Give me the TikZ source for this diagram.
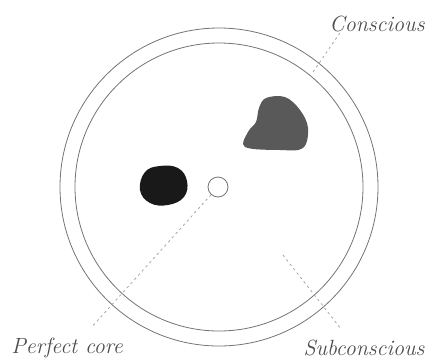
\documentclass[tikz,border=0pt]{standalone}
\usepackage{tikz}
\usetikzlibrary{positioning, calc}

\begin{document}
\begin{tikzpicture}[
    x=0.5pt, y=-0.5pt,
    ring/.style={draw=black!55, line width=0.4pt},
    lbl/.style={font=\itshape\fontsize{11}{13}\selectfont, text=black!70, inner sep=0pt},
    leader/.style={draw=black!35, line width=0.4pt, dash pattern=on 1.2pt off 1.6pt}
]
\useasboundingbox (0,0) rectangle (429,360);
% rings
\coordinate (mid) at (219,187);
\draw[ring] (mid) circle[radius=159];
\draw[ring] (mid) circle[radius=144];
\node[circle, draw=black!55, line width=0.4pt, minimum size=10pt, inner sep=0pt] (core) at (218,187) {};
% blobs
\fill[black!90] plot[smooth cycle, tension=0.7] coordinates {(145,172) (160,166) (178,168) (187,181) (184,197) (168,205) (150,203) (140,190)};
\fill[black!65] plot[smooth cycle, tension=0.6] coordinates {(266,98) (285,97) (300,110) (308,128) (303,148) (280,150) (245,147) (248,132) (256,122) (259,108)};
% labels
\node[lbl] (conscious) at (377,24) {Conscious};
\node[lbl] (pcore) at (67,348) {Perfect core};
\node[lbl] (subcon) at (364,348) {Subconscious};
\coordinate (cring) at (313,72);
\coordinate (sring) at (283,255);
% leaders
\draw[leader] ($(conscious.south west)+(14,-4)$) -- (cring);
\draw[leader] (core) -- ($(pcore.north)+(26,-12)$);
\draw[leader] (sring) -- ($(subcon.north)+(-24,-12)$);
\end{tikzpicture}
\end{document}
